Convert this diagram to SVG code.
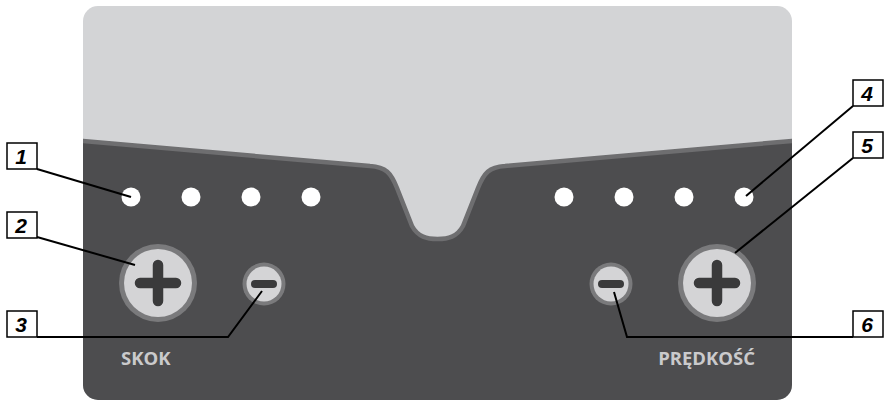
<svg xmlns="http://www.w3.org/2000/svg" width="889" height="400" viewBox="0 0 889 400">
<style>
.led{fill:#ffffff}
.ring{fill:#7a7a7c}
.face{fill:#d4d4d6}
.sym{stroke:#3a3a3b;stroke-linecap:round;fill:none}
.box{fill:#ffffff;stroke:#000000;stroke-width:1.5}
.num{font-family:"Liberation Sans",Arial,sans-serif;font-weight:bold;font-style:italic;font-size:21px;fill:#000000;text-anchor:middle}
.cap{font-family:"Open Sans","Noto Sans",sans-serif;font-weight:bold;font-size:18.5px;fill:#cacacc}
.lead{stroke:#000000;stroke-width:2;fill:none}
</style>
<defs>
<clipPath id="pc"><rect x="83" y="6" width="709" height="394" rx="15"/></clipPath>
</defs>
<g id="panel">
<rect x="83" y="6" width="709" height="394" rx="15" fill="#d3d4d6"/>
<path clip-path="url(#pc)" d="M60,139 L83,141 L370,166 C386,167 391,173 397,188 L412,226 C418,237 427,239 437.5,239 C448,239 457,237 463,226 L478,188 C484,173 489,167 505,166 L792,141 L815,139 L815,420 L60,420 Z" fill="#4d4d4f" stroke="#6e6e70" stroke-width="4.5"/>
</g>
<g id="leds">
<circle class="led" cx="131" cy="197" r="9.5"/>
<circle class="led" cx="191" cy="197" r="9.5"/>
<circle class="led" cx="251" cy="197" r="9.5"/>
<circle class="led" cx="311" cy="197" r="9.5"/>
<circle class="led" cx="564" cy="197" r="9.5"/>
<circle class="led" cx="624" cy="197" r="9.5"/>
<circle class="led" cx="684" cy="197" r="9.5"/>
<circle class="led" cx="744" cy="197" r="9.5"/>
</g>
<g id="skok-plus">
<circle class="ring" cx="158" cy="283" r="39"/>
<circle class="face" cx="158" cy="283" r="34"/>
<path class="sym" stroke-width="10.5" d="M140,283 H176 M158,265 V301"/>
</g>
<g id="skok-minus">
<circle class="ring" cx="264" cy="284" r="21.5"/>
<circle class="face" cx="264" cy="284" r="17.5"/>
<path class="sym" stroke-width="8" d="M255,284 H273"/>
</g>
<g id="speed-minus">
<circle class="ring" cx="611" cy="284" r="21.5"/>
<circle class="face" cx="611" cy="284" r="17.5"/>
<path class="sym" stroke-width="8" d="M602,284 H620"/>
</g>
<g id="speed-plus">
<circle class="ring" cx="717" cy="283" r="39"/>
<circle class="face" cx="717" cy="283" r="34"/>
<path class="sym" stroke-width="10.5" d="M699,283 H735 M717,265 V301"/>
</g>
<g id="captions">
<text class="cap" x="121" y="365">SKOK</text>
<text class="cap" x="755" y="365" text-anchor="end">PRĘDKOŚĆ</text>
</g>
<g id="connectors">
<path class="lead" d="M37,169 L131,197"/>
<path class="lead" d="M37,237 L135,265"/>
<path class="lead" d="M37,337 H228 L262,291"/>
<path class="lead" d="M853,106 L746,196"/>
<path class="lead" d="M853,158 L735,253"/>
<path class="lead" d="M853,337 H627 L614,292"/>
</g>
<g id="label-1"><rect class="box" x="7" y="143" width="30" height="26"/><text class="num" x="21" y="164">1</text></g>
<g id="label-2"><rect class="box" x="7" y="212" width="30" height="26"/><text class="num" x="21" y="233">2</text></g>
<g id="label-3"><rect class="box" x="7" y="311" width="30" height="26"/><text class="num" x="21" y="332">3</text></g>
<g id="label-4"><rect class="box" x="853" y="80" width="30" height="26"/><text class="num" x="867" y="101">4</text></g>
<g id="label-5"><rect class="box" x="853" y="132" width="30" height="26"/><text class="num" x="867" y="153">5</text></g>
<g id="label-6"><rect class="box" x="853" y="311" width="30" height="26"/><text class="num" x="867" y="332">6</text></g>
</svg>
